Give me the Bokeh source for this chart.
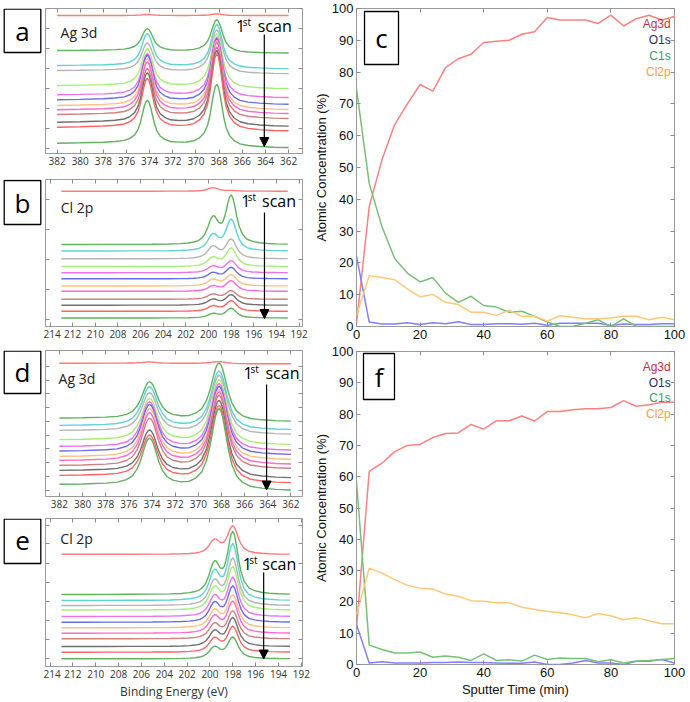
import numpy as np
from bokeh.plotting import figure
from bokeh.layouts import row, column
from bokeh.models import (Range1d, FixedTicker, SingleIntervalTicker, LinearAxis,
                          Label, Arrow, NormalHead, BoxAnnotation)
from bokeh.embed import file_html
from bokeh.resources import INLINE

# ---------------- data ----------------
# colours of the 13 stacked scans, top (last scan) to bottom (1st scan)
SCAN_COLORS = ["#ff7a7a", "#5fb35f", "#5fd3d3", "#b4b4b4", "#a6ee78", "#ee72ee",
               "#6a6aee", "#ffbf80", "#ff68d0", "#d08080", "#707070", "#ff6464", "#62b062"]

# Ag 3d binding-energy grid (eV) and read-off line-shape templates
E_AG = [382.0, 380.0, 378.0, 377.0, 376.2, 375.7, 375.3, 375.0, 374.8, 374.65, 374.5,
        374.35, 374.2, 374.05, 373.9, 373.75, 373.6, 373.4, 373.1, 372.7, 372.2, 371.5,
        370.8, 370.2, 369.7, 369.3, 369.0, 368.8, 368.65, 368.5, 368.35, 368.2, 368.05,
        367.9, 367.75, 367.6, 367.4, 367.1, 366.7, 366.2, 365.5, 364.5, 363.3, 362.0]
# narrow peaks (panel a)
P1_A = [0.0, 0.01, 0.02, 0.035, 0.06, 0.11, 0.19, 0.32, 0.48, 0.65, 0.82, 0.95, 1.0,
        0.95, 0.82, 0.65, 0.48, 0.32, 0.19, 0.11, 0.06, 0.035, 0.022, 0.015, 0.012, 0.01,
        0.008, 0.007, 0.007, 0.006, 0.006, 0.006, 0.005, 0.005, 0.005, 0.005, 0.004,
        0.004, 0.003, 0.003, 0.002, 0.001, 0.0, 0.0]
P2_A = [0.0, 0.0, 0.002, 0.003, 0.004, 0.004, 0.005, 0.005, 0.005, 0.006, 0.006, 0.006,
        0.007, 0.007, 0.008, 0.008, 0.009, 0.01, 0.011, 0.013, 0.015, 0.022, 0.035, 0.06,
        0.11, 0.19, 0.32, 0.48, 0.65, 0.82, 0.95, 1.0, 0.95, 0.82, 0.65, 0.48, 0.32, 0.19,
        0.11, 0.06, 0.035, 0.02, 0.01, 0.005]
# broader peaks (panel d)
P1_D = [0.004, 0.01, 0.025, 0.045, 0.1, 0.18, 0.32, 0.5, 0.66, 0.79, 0.9, 0.97, 1.0,
        0.97, 0.9, 0.79, 0.66, 0.5, 0.32, 0.18, 0.1, 0.05, 0.034, 0.025, 0.02, 0.017,
        0.015, 0.013, 0.012, 0.011, 0.01, 0.009, 0.009, 0.008, 0.007, 0.007, 0.006,
        0.005, 0.005, 0.004, 0.003, 0.002, 0.001, 0.0]
P2_D = [0.0, 0.001, 0.003, 0.004, 0.004, 0.005, 0.005, 0.006, 0.007, 0.007, 0.008,
        0.009, 0.009, 0.01, 0.011, 0.012, 0.013, 0.015, 0.017, 0.02, 0.025, 0.034, 0.05,
        0.1, 0.18, 0.32, 0.5, 0.66, 0.79, 0.9, 0.97, 1.0, 0.97, 0.9, 0.79, 0.66, 0.5,
        0.32, 0.18, 0.1, 0.05, 0.028, 0.014, 0.007]
STEP_AG = [1.0, 1.0, 1.0, 0.99, 0.98, 0.96, 0.94, 0.91, 0.88, 0.85, 0.82, 0.78, 0.75,
           0.72, 0.69, 0.67, 0.65, 0.63, 0.62, 0.61, 0.6, 0.6, 0.59, 0.58, 0.57, 0.55,
           0.52, 0.49, 0.45, 0.4, 0.35, 0.3, 0.25, 0.2, 0.16, 0.12, 0.08, 0.05, 0.03,
           0.02, 0.01, 0.0, 0.0, 0.0]

# panel a: stacked Ag 3d scans (offset intensity, arb. units)
A_BASE_L = [138.0, 103.0, 88.0, 83.0, 68.0, 58.7, 53.7, 48.0, 43.7, 39.0, 31.3, 26.3, 10.3]
A_BASE_R = [138.0, 100.3, 84.7, 79.7, 64.7, 55.7, 49.0, 43.7, 39.7, 34.7, 27.0, 22.3, 5.7]
A_H1 = [1.0, 22.4, 32.5, 28.1, 37.5, 41.7, 45.5, 47.8, 48.6, 46.8, 50.1, 49.4, 43.8]
A_H2 = [1.5, 32.6, 43.3, 43.0, 54.0, 59.7, 64.3, 68.0, 70.4, 70.3, 74.7, 76.2, 61.9]

# panel d: stacked Ag 3d scans
D_BASE_L = [133.3, 78.3, 71.0, 66.0, 56.7, 50.0, 45.3, 40.0, 36.0, 31.0, 26.0, 21.0, 12.0]
D_BASE_R = [132.7, 75.0, 66.7, 62.0, 51.7, 46.0, 41.7, 36.7, 32.0, 27.7, 18.3, 13.3, 6.0]
D_H1 = [1.3, 36.8, 39.4, 38.3, 42.2, 45.3, 47.3, 48.5, 48.3, 47.5, 41.9, 41.9, 47.2]
D_H2 = [2.0, 57.3, 57.3, 57.8, 63.5, 65.5, 67.2, 69.0, 71.1, 72.3, 75.4, 75.4, 79.9]

# Cl 2p grid and line shapes
E_CL = [213.0, 211.0, 209.0, 207.0, 205.0, 203.5, 202.5, 201.8, 201.3, 200.9, 200.6,
        200.35, 200.1, 199.9, 199.75, 199.6, 199.45, 199.3, 199.1, 198.9, 198.75, 198.6,
        198.45, 198.3, 198.15, 198.0, 197.85, 197.7, 197.5, 197.3, 197.0, 196.6, 196.1,
        195.5, 194.8, 194.0, 193.0]
P1_CL = [0.0, 0.0, 0.002, 0.003, 0.005, 0.01, 0.02, 0.04, 0.07, 0.12, 0.2, 0.33, 0.56,
         0.8, 0.94, 1.0, 0.94, 0.8, 0.56, 0.37, 0.27, 0.2, 0.15, 0.12, 0.1, 0.08, 0.068,
         0.058, 0.045, 0.038, 0.03, 0.02, 0.014, 0.01, 0.007, 0.004, 0.002]
P2_CL = [0.0, 0.0, 0.001, 0.002, 0.003, 0.005, 0.008, 0.011, 0.015, 0.02, 0.03, 0.036,
         0.045, 0.058, 0.068, 0.08, 0.1, 0.12, 0.17, 0.25, 0.33, 0.46, 0.62, 0.8, 0.94,
         1.0, 0.94, 0.8, 0.56, 0.37, 0.2, 0.1, 0.058, 0.032, 0.018, 0.01, 0.006]

# panel b: stacked Cl 2p scans
B_BASE = [135.3, 82.0, 75.5, 67.7, 60.0, 53.8, 47.7, 40.5, 35.2, 27.2, 21.3, 15.2, 8.5]
B_H1 = [3.5, 25.0, 15.2, 11.7, 8.5, 6.2, 5.7, 6.3, 5.0, 4.8, 5.5, 5.0, 4.0]
B_H2 = [0.5, 47.7, 30.8, 19.0, 17.9, 11.6, 11.1, 10.9, 10.3, 8.4, 10.2, 10.3, 9.4]

# panel e: stacked Cl 2p scans
E_BASE = [112.2, 72.0, 66.0, 61.0, 56.5, 50.0, 44.3, 38.7, 33.3, 27.7, 20.0, 14.3, 7.7]
E_H1 = [13.2, 29.0, 27.0, 23.0, 21.0, 19.0, 18.0, 16.5, 16.0, 14.0, 14.5, 13.0, 11.0]
E_H2 = [27.6, 61.0, 55.0, 46.0, 42.0, 38.0, 35.0, 32.0, 31.0, 27.0, 28.0, 25.0, 21.0]

# sputter depth profiles (atomic concentration, %)
TIME = [0, 4, 8, 12, 16, 20, 24, 28, 32, 36, 40, 44, 48, 52, 56, 60, 64, 68, 72, 76,
        80, 84, 88, 92, 96, 100]
AG_C = [1.0, 37.7, 52.4, 63.5, 70.0, 76.1, 74.0, 81.4, 84.2, 85.6, 89.3, 89.7, 90.0,
        91.9, 92.7, 97.2, 96.4, 96.4, 96.4, 95.3, 97.9, 94.5, 96.8, 97.9, 96.4, 97.5]
O_C = [22.1, 1.4, 0.8, 0.8, 1.2, 0.6, 1.2, 0.9, 1.5, 0.6, 0.6, 0.9, 0.9, 0.7, 1.0, 0.4,
       1.0, 1.0, 1.0, 1.0, 0.3, 0.8, 0.6, 0.6, 0.9, 0.9]
C_C = [74.7, 45.0, 31.4, 21.4, 16.8, 14.0, 15.4, 10.5, 7.6, 9.5, 6.6, 6.1, 4.5, 4.8,
       3.2, 1.4, 0.0, 0.0, 1.0, 2.1, 0.0, 2.4, 0.0, 0.0, 0.0, 0.0]
CL_C = [3.5, 16.0, 15.4, 14.7, 11.8, 9.3, 10.1, 7.6, 6.9, 4.5, 4.5, 3.5, 5.1, 3.2, 3.3,
        1.7, 3.4, 2.9, 2.4, 2.4, 2.7, 3.2, 3.2, 2.1, 2.9, 2.1]
AG_F = [11.7, 61.7, 64.3, 68.0, 70.0, 70.3, 72.5, 73.8, 74.0, 76.7, 75.2, 77.9, 77.9,
        79.4, 77.8, 80.8, 80.8, 81.4, 81.7, 81.7, 82.1, 84.3, 82.5, 83.0, 83.8, 83.8]
O_F = [12.8, 0.5, 0.9, 0.5, 0.5, 0.5, 0.6, 0.6, 0.8, 0.6, 0.6, 0.5, 0.4, 0.4, 0.8, 0.0,
       0.0, 0.5, 1.3, 0.5, 0.5, 0.0, 1.0, 1.0, 1.6, 0.5]
C_F = [58.4, 6.2, 4.8, 3.7, 3.7, 4.0, 2.3, 2.7, 2.3, 1.3, 3.4, 1.3, 1.5, 1.1, 3.0, 1.6,
       2.1, 1.9, 1.9, 0.9, 1.5, 0.5, 1.1, 1.3, 1.6, 1.9]
CL_F = [15.9, 30.8, 29.2, 27.1, 25.3, 24.4, 24.1, 22.5, 21.8, 20.4, 20.2, 19.7, 19.7,
        18.3, 17.6, 17.0, 16.5, 15.9, 14.9, 16.3, 15.6, 14.3, 14.9, 14.0, 13.0, 13.0]

ELEMENTS = ["Ag3d", "O1s", "C1s", "Cl2p"]
LINE_COLORS = ["#ff8080", "#8080ff", "#78c078", "#ffc878"]
TEXT_COLORS = ["#c0304a", "#2c2c70", "#3a9a6a", "#ffa040"]

SANS = "Open Sans"
ARIAL = "Liberation Sans"
TICK_GRAY = "#8c8c8c"


def tick_style(ax, hide=False, tick_in=4):
    ax.major_tick_in = tick_in
    ax.major_tick_out = 0
    ax.minor_tick_in = 0
    ax.minor_tick_out = 0
    ax.axis_line_color = None
    ax.major_tick_line_color = TICK_GRAY
    if hide:
        ax.major_label_text_font_size = "0px"
        ax.major_label_text_color = None
        ax.major_label_standoff = 0


def base_fig(w, h, xr, yr, left, right, top, bottom):
    p = figure(width=w, height=h, x_range=Range1d(*xr), y_range=Range1d(*yr),
               output_backend="svg", toolbar_location=None,
               min_border_left=left, min_border_right=right,
               min_border_top=top, min_border_bottom=bottom)
    p.grid.visible = False
    p.outline_line_color = "#9a9a9a"
    p.background_fill_color = "white"
    p.border_fill_color = "white"
    return p


def letter_box(letter, h, top, bottom, box_bottom, box_top, cy):
    """narrow strip left of a spectrum panel holding the boxed panel letter
    (same top/bottom borders as its spectrum panel so that the row aligns)"""
    fh = h - top - bottom
    p = figure(width=43, height=h, x_range=Range1d(0, 43), y_range=Range1d(0, fh),
               output_backend="svg", toolbar_location=None,
               x_axis_type=None, y_axis_type=None,
               min_border_left=0, min_border_right=0,
               min_border_top=top, min_border_bottom=bottom)
    p.grid.visible = False
    p.outline_line_color = None
    p.background_fill_color = "white"
    p.border_fill_color = "white"
    p.add_layout(BoxAnnotation(left=3.7, right=40.3, bottom=box_bottom, top=box_top,
                               fill_color="white", fill_alpha=1.0, line_color="black",
                               line_width=1.3, line_alpha=1.0))
    p.add_layout(Label(x=22, y=cy, text=letter, text_font=SANS, text_font_size="26px",
                       text_align="center", text_baseline="middle", text_color="black"))
    return p


def spectrum_panel(h, top, bottom, xr, ytop, yticks, xlabel=None):
    p = base_fig(267, h, xr, (0, ytop), 2, 8, top, bottom)
    xt = SingleIntervalTicker(interval=2, num_minor_ticks=0)
    yt = FixedTicker(ticks=yticks)
    bx = p.below[0]
    bx.ticker = xt
    tick_style(bx)
    bx.major_label_standoff = 3
    bx.major_label_text_font = SANS
    bx.major_label_text_font_size = "10px"
    bx.major_label_text_color = "#333333"
    if xlabel:
        bx.axis_label = xlabel
        bx.axis_label_text_font = SANS
        bx.axis_label_text_font_size = "12px"
        bx.axis_label_text_font_style = "normal"
        bx.axis_label_text_color = "#333333"
        bx.axis_label_standoff = 2
    ly = p.left[0]
    ly.ticker = yt
    tick_style(ly, hide=True)
    ta = LinearAxis(ticker=xt)
    tick_style(ta, hide=True)
    p.add_layout(ta, "above")
    ra = LinearAxis(ticker=yt)
    tick_style(ra, hide=True)
    p.add_layout(ra, "right")
    return p


def add_scan(p, ex, y_arrow_top, y_arrow_tip, x1, xst, xscan, ytext):
    p.add_layout(Arrow(end=NormalHead(size=9, fill_color="black", line_color="black"),
                       x_start=ex, y_start=y_arrow_top, x_end=ex, y_end=y_arrow_tip,
                       line_width=1.2, line_color="black"))
    p.add_layout(Label(x=x1, y=ytext, text="1", text_font=SANS, text_font_size="16px",
                       text_baseline="middle", text_color="black"))
    p.add_layout(Label(x=xst, y=ytext + 4, text="st", text_font=SANS, text_font_size="10px",
                       text_baseline="middle", text_color="black"))
    p.add_layout(Label(x=xscan, y=ytext, text="scan", text_font=SANS, text_font_size="16px",
                       text_baseline="middle", text_color="black"))


def add_title(p, text, x, y):
    p.add_layout(Label(x=x, y=y, text=text, text_font=SANS, text_font_size="14px",
                       text_baseline="middle", text_color="#222222"))


EA = np.array(E_AG)
EC = np.array(E_CL)

# ---------------- panel a ----------------
pa = spectrum_panel(170, 8, 17, (383.0, 360.8), 145, [5, 25, 45, 65, 85, 105, 125, 145])
for i in range(13):
    y = (A_BASE_R[i] + (A_BASE_L[i] - A_BASE_R[i]) * np.array(STEP_AG)
         + A_H1[i] * np.array(P1_A) + A_H2[i] * np.array(P2_A))
    pa.line(EA, y, line_color=SCAN_COLORS[i], line_width=1.4)
add_title(pa, "Ag 3d", 381.7, 121)
add_scan(pa, 364.1, 119, 7, 366.55, 365.97, 364.67, 128)
ba = letter_box("a", 170, 8, 17, 101, 144.3, 122.5)

# ---------------- panel b ----------------
pb = spectrum_panel(175, 9, 19, (214.4, 191.7), 147, [6.7, 36.7, 66.7, 96.7, 126.7])
for i in range(13):
    y = B_BASE[i] + B_H1[i] * np.array(P1_CL) + B_H2[i] * np.array(P2_CL)
    pb.line(EC, y, line_color=SCAN_COLORS[i], line_width=1.4)
add_title(pb, "Cl 2p", 213.05, 118.7)
add_scan(pb, 195.06, 114, 8, 197.12, 196.53, 195.27, 126)
bb = letter_box("b", 175, 9, 19, 102, 146, 124)

# ---------------- panel d ----------------
pd_ = spectrum_panel(170, 5, 19, (383.2, 361.0), 146,
                     [6, 20, 33.7, 47.7, 61, 75, 88.7, 102.7, 116, 130])
for i in range(13):
    y = (D_BASE_R[i] + (D_BASE_L[i] - D_BASE_R[i]) * np.array(STEP_AG)
         + D_H1[i] * np.array(P1_D) + D_H2[i] * np.array(P2_D))
    pd_.line(EA, y, line_color=SCAN_COLORS[i], line_width=1.4)
add_title(pd_, "Ag 3d", 382.07, 117.7)
add_scan(pd_, 364.1, 112, 6.5, 366.1, 365.5, 364.2, 123.3)
bd = letter_box("d", 170, 5, 19, 103, 145.3, 124.5)

# ---------------- panel e ----------------
pe = spectrum_panel(187, 3, 36, (214.4, 191.9), 148,
                    [7.7, 26.7, 46, 65.3, 84.3, 103.3, 122.7, 141],
                    xlabel="Binding Energy (eV)")
for i in range(13):
    y = E_BASE[i] + E_H1[i] * np.array(P1_CL) + E_H2[i] * np.array(P2_CL)
    pe.line(EC, y, line_color=SCAN_COLORS[i], line_width=1.4)
add_title(pe, "Cl 2p", 213.1, 127.7)
add_scan(pe, 195.3, 94, 7.5, 197.13, 196.57, 195.42, 102.7)
be = letter_box("e", 187, 3, 36, 103, 147.3, 125.5)


# ---------------- concentration panels ----------------
def conc_panel(h, top, bottom, series, letter, box, xlabel=None):
    p = base_fig(380, h, (0, 100), (0, 100), 46, 16, top, bottom)
    xt = SingleIntervalTicker(interval=20, num_minor_ticks=0)
    yt = SingleIntervalTicker(interval=10, num_minor_ticks=0)
    bx = p.below[0]
    bx.ticker = xt
    tick_style(bx)
    bx.major_label_standoff = 3
    ly = p.left[0]
    ly.ticker = yt
    tick_style(ly)
    ly.major_label_standoff = 3
    for ax in (bx, ly):
        ax.major_label_text_font = ARIAL
        ax.major_label_text_font_size = "13px"
        ax.major_label_text_color = "#111111"
        ax.axis_label_text_font = ARIAL
        ax.axis_label_text_font_size = "13px"
        ax.axis_label_text_font_style = "normal"
        ax.axis_label_text_color = "#111111"
        ax.axis_label_standoff = 0
    bx.axis_label_standoff = 2
    ly.axis_label = "Atomic Concentration (%)"
    if xlabel:
        bx.axis_label = xlabel
    ta = LinearAxis(ticker=xt)
    tick_style(ta, hide=True)
    p.add_layout(ta, "above")
    ra = LinearAxis(ticker=yt)
    tick_style(ra, hide=True)
    p.add_layout(ra, "right")
    for vals, col in zip(series, LINE_COLORS):
        p.line(TIME, vals, line_color=col, line_width=1.5)
    for k, (name, tc) in enumerate(zip(ELEMENTS, TEXT_COLORS)):
        p.add_layout(Label(x=98.8, y=95 - 5 * k, text=name, text_font=ARIAL,
                           text_font_size="12px", text_align="right",
                           text_baseline="middle", text_color=tc))
    l, r, b, t, cx, cy = box
    p.add_layout(BoxAnnotation(left=l, right=r, bottom=b, top=t, fill_color="white",
                               fill_alpha=1.0, line_color="black", line_width=1.3,
                               line_alpha=1.0))
    p.add_layout(Label(x=cx, y=cy, text=letter, text_font=SANS, text_font_size="26px",
                       text_align="center", text_baseline="middle", text_color="black"))
    return p


pc = conc_panel(344, 8, 18, [AG_C, O_C, C_C, CL_C], "c",
                (2.52, 13.21, 82.39, 99.06, 7.86, 90.7))
pf = conc_panel(358, 7, 38, [AG_F, O_F, C_F, CL_F], "f",
                (2.2, 11.95, 84.66, 99.36, 7.08, 92.0), xlabel="Sputter Time (min)")

left_col = column(row(ba, pa), row(bb, pb), row(bd, pd_), row(be, pe))
layout = row(left_col, column(pc, pf))
open("out.html", "w").write(file_html(layout, INLINE, title="XPS depth profiles"))
